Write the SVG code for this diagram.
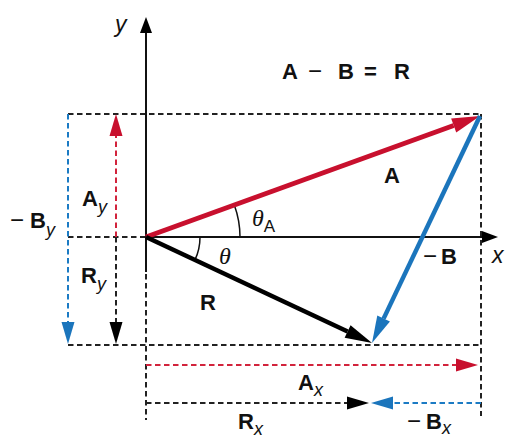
<svg xmlns="http://www.w3.org/2000/svg" width="507" height="439" viewBox="0 0 507 439">
<style>
.lbl{font-family:"Liberation Sans",Arial,sans-serif;font-weight:bold;font-size:22px;fill:#111}
.mn{font-weight:normal;font-size:24px}
.sub{font-family:"Liberation Sans",Arial,sans-serif;font-style:italic;font-weight:normal;font-size:18px;fill:#111}
.subA{font-family:"Liberation Sans",Arial,sans-serif;font-style:normal;font-weight:normal;font-size:17px;fill:#111}
.ax{font-family:"Liberation Sans",Arial,sans-serif;font-style:italic;font-size:23px;fill:#111}
.th{font-family:"Liberation Serif","Times New Roman",serif;font-style:italic;font-size:24px;fill:#111}
.dk{stroke:#222;stroke-width:2;stroke-dasharray:5.5,3.5;fill:none}
.dr{stroke:#d2233c;stroke-width:2;stroke-dasharray:5.5,3.5;fill:none}
.db{stroke:#1b7bc4;stroke-width:2;stroke-dasharray:5.5,3.5;fill:none}
.axis{stroke:#111;stroke-width:2;fill:none}
</style>
<defs>
<marker id="hRed" markerUnits="userSpaceOnUse" orient="auto" refX="0" refY="0" markerWidth="30" markerHeight="16" overflow="visible"><path d="M0,-7.5 L28,0 L0,7.5 z" fill="#c8102e"/></marker>
<marker id="hBlue" markerUnits="userSpaceOnUse" orient="auto" refX="0" refY="0" markerWidth="30" markerHeight="16" overflow="visible"><path d="M0,-7 L27,0 L0,7 z" fill="#1b75bc"/></marker>
<marker id="hBlack" markerUnits="userSpaceOnUse" orient="auto" refX="0" refY="0" markerWidth="30" markerHeight="16" overflow="visible"><path d="M0,-7 L27,0 L0,7 z" fill="#000"/></marker>
<marker id="hAxis" markerUnits="userSpaceOnUse" orient="auto" refX="0" refY="0" markerWidth="20" markerHeight="14" overflow="visible"><path d="M0,-6 L16,0 L0,6 z" fill="#000"/></marker>
<marker id="dRed" markerUnits="userSpaceOnUse" orient="auto" refX="0" refY="0" markerWidth="24" markerHeight="14" overflow="visible"><path d="M0,-6.5 L22,0 L0,6.5 z" fill="#c8102e"/></marker>
<marker id="dBlue" markerUnits="userSpaceOnUse" orient="auto" refX="0" refY="0" markerWidth="24" markerHeight="14" overflow="visible"><path d="M0,-6.5 L22,0 L0,6.5 z" fill="#1b75bc"/></marker>
<marker id="dBlack" markerUnits="userSpaceOnUse" orient="auto" refX="0" refY="0" markerWidth="24" markerHeight="14" overflow="visible"><path d="M0,-6.5 L22,0 L0,6.5 z" fill="#000"/></marker>
</defs>

<g id="guides">
<path class="dk" d="M68,114 H481"/>
<path class="dk" d="M481,114 V416"/>
<path class="dk" d="M68,345 H481"/>
<path class="dk" d="M68,237 H146"/>
<path class="dk" d="M146,274 V420"/>
<path class="dk" d="M147,403 H150"/>
</g>

<g id="axes">
<path class="axis" d="M146,272 V33" marker-end="url(#hAxis)"/>
<path class="axis" d="M146,237 H482" marker-end="url(#hAxis)"/>
<text class="ax" x="115" y="32">y</text>
<text class="ax" x="492" y="263">x</text>
</g>

<g id="angles">
<path d="M240,237 A94,94 0 0 0 234.3,205" fill="none" stroke="#111" stroke-width="1.5"/>
<path d="M200,237 A54,54 0 0 1 195,259.9" fill="none" stroke="#111" stroke-width="1.5"/>
<text class="th" font-size="22" x="252" y="226">θ<tspan class="subA" dy="6">A</tspan></text>
<text class="th" x="219" y="264">θ</text>
</g>

<g id="connectors">
<path d="M146,237 L453.7,125.5" stroke="#c8102e" stroke-width="5" marker-end="url(#hRed)"/>
<path d="M480,116 L383.6,318.6" stroke="#1b75bc" stroke-width="4.5" marker-end="url(#hBlue)"/>
<path d="M146,237 L347.6,331.5" stroke="#000" stroke-width="4.5" marker-end="url(#hBlack)"/>
<path class="dr" d="M116,237 V136" marker-end="url(#dRed)"/>
<path class="dk" d="M116,237 V322" marker-end="url(#dBlack)"/>
<path class="db" d="M68,114 V322" marker-end="url(#dBlue)"/>
<path class="dr" d="M146,365 H456" marker-end="url(#dRed)"/>
<path class="dk" d="M146,403 H347" marker-end="url(#dBlack)"/>
<path class="db" d="M481,403 H393" marker-end="url(#dBlue)"/>
</g>

<g id="equation">
<text class="lbl"><tspan x="282" y="79">A</tspan><tspan class="mn" x="308" y="79">−</tspan><tspan x="338" y="79">B</tspan><tspan x="364" y="79">=</tspan><tspan x="394" y="79">R</tspan></text>
</g>

<g id="labels">
<text class="lbl" x="384" y="183">A</text>
<text class="lbl" x="200" y="310">R</text>
<text class="lbl" x="423" y="264"><tspan class="mn">−</tspan><tspan dx="4">B</tspan></text>
<text class="lbl" x="82" y="206">A<tspan class="sub" dy="7">y</tspan></text>
<text class="lbl" x="10" y="228"><tspan class="mn">−</tspan><tspan dx="6">B</tspan><tspan class="sub" dy="8">y</tspan></text>
<text class="lbl" x="81" y="283">R<tspan class="sub" dy="7">y</tspan></text>
<text class="lbl" x="298" y="390">A<tspan class="sub" dy="6">x</tspan></text>
<text class="lbl" x="238" y="429">R<tspan class="sub" dy="6">x</tspan></text>
<text class="lbl" x="407" y="429"><tspan class="mn">−</tspan><tspan dx="5">B</tspan><tspan class="sub" dy="5">x</tspan></text>
</g>
</svg>
